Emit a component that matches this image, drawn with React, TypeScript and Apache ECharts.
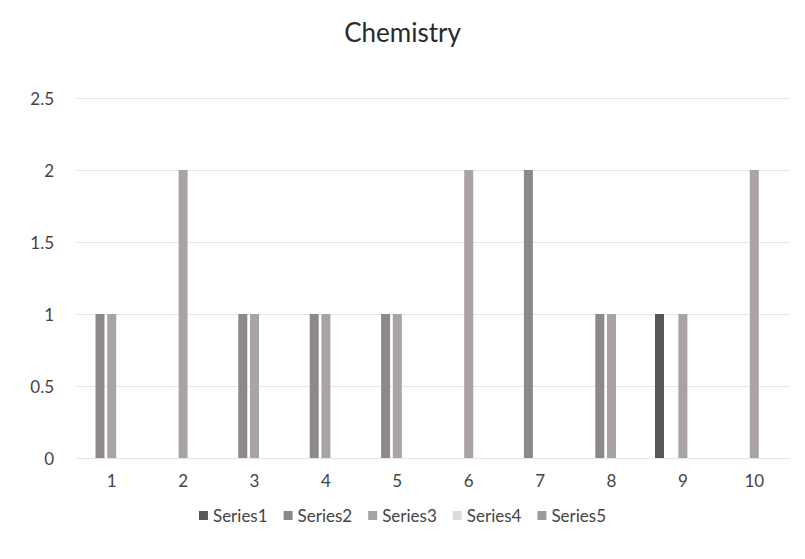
import React, { useEffect, useRef } from "react";
import * as echarts from "echarts";

const categories = ["1", "2", "3", "4", "5", "6", "7", "8", "9", "10"];
const series1 = [null, null, null, null, null, null, null, null, 1, null];
const series2 = [1, null, 1, 1, 1, null, 2, 1, null, null];
const series3 = [1, 2, 1, 1, 1, 2, null, 1, 1, 2];
const series4 = [null, null, null, null, null, null, null, null, null, null];
const series5 = [null, null, null, null, null, null, null, null, null, null];
const seriesNames = ["Series1", "Series2", "Series3", "Series4", "Series5"];
const seriesColors = ["#5a5658", "#8e888b", "#aaa3a6", "#dcdcdc", "#9c9c9c"];

export default function App() {
  const ref = useRef<HTMLDivElement>(null);
  useEffect(() => {
    if (!ref.current) return;
    const chart = echarts.init(ref.current, null, { renderer: "svg" });
    const data = [series1, series2, series3, series4, series5];
    chart.setOption({
      animation: false,
      backgroundColor: "#ffffff",
      textStyle: { fontFamily: "Lato, 'Open Sans', sans-serif" },
      title: {
        text: "Chemistry",
        left: "center",
        top: 14,
        textStyle: { fontSize: 26, fontWeight: "normal", color: "#2a2a2a", fontFamily: "Lato, 'Open Sans', sans-serif" },
      },
      legend: {
        bottom: 30,
        left: "center",
        itemWidth: 9,
        itemHeight: 9,
        itemGap: 16,
        icon: "rect",
        textStyle: { fontSize: 17, color: "#444" },
        data: seriesNames,
      },
      grid: { left: 76, right: 15, top: 98, bottom: 101, containLabel: false },
      xAxis: {
        type: "category",
        data: categories,
        axisLine: { show: true, lineStyle: { color: "#e4e4e4" } },
        axisTick: { show: false },
        axisLabel: { fontSize: 17, color: "#444", margin: 14 },
      },
      yAxis: {
        type: "value",
        min: 0,
        max: 2.5,
        interval: 0.5,
        axisLine: { show: false },
        axisTick: { show: false },
        axisLabel: { fontSize: 17, color: "#444", margin: 22 },
        splitLine: { lineStyle: { color: "#e6e6e6" } },
      },
      series: seriesNames.map((name, i) => ({
        name,
        type: "bar",
        data: data[i],
        barWidth: 9,
        barGap: "30%",
        itemStyle: { color: seriesColors[i] },
      })),
    });
    return () => chart.dispose();
  }, []);
  return <div ref={ref} style={{ position: "fixed", left: 0, top: 0, width: 805, height: 559 }} />;
}
